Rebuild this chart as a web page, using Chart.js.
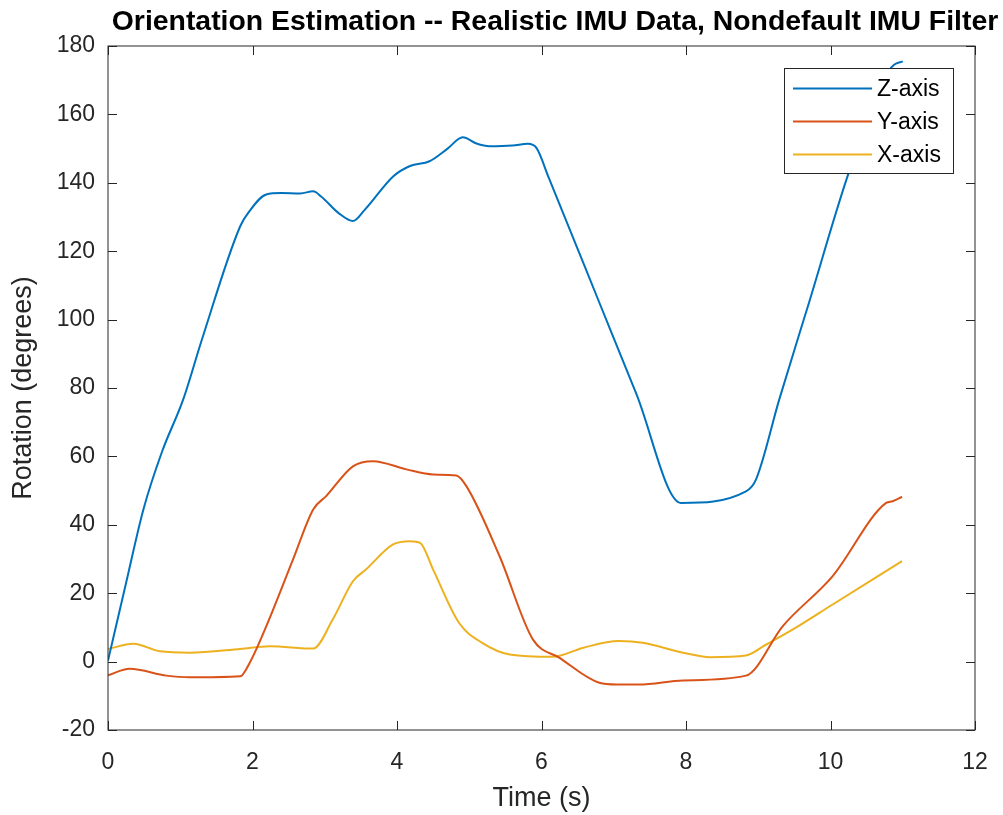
<!DOCTYPE html>
<html>
<head>
<meta charset="utf-8">
<script src="https://cdn.jsdelivr.net/npm/chart.js@4/dist/chart.umd.min.js"></script>
<style>
  body { margin: 0; background: #fff; }
  #wrap { width: 1003px; height: 815px; }
</style>
</head>
<body>
<div id="wrap"><canvas id="orient"></canvas></div>
<script>
// values
var zTime = [0, 0.25, 0.49, 0.75, 1.04, 1.3, 1.83, 1.95, 2.19, 2.4, 2.66, 2.84, 2.95, 3.2, 3.39, 3.55, 3.95, 4.18, 4.45, 4.7, 4.91, 5.1, 5.28, 5.6, 5.81, 5.93, 6.1, 6.8, 7.31, 7.93, 8.83, 8.97, 9.29, 9.7, 10.26, 10.8, 10.88, 11.0];
var zDeg  = [0.3, 23, 44.5, 61.5, 76.6, 94.2, 127.3, 131.5, 136.6, 137, 136.9, 137.5, 136, 131, 128.8, 132, 141.9, 144.9, 146.3, 150, 153.3, 151.5, 150.7, 150.9, 151.4, 150.2, 141.5, 105, 78.4, 46.4, 49.8, 53.3, 76.6, 104.8, 143.4, 172.5, 174.5, 175.5];

var yTime = [0, 0.3, 0.81, 1.13, 1.83, 1.96, 2.19, 2.56, 2.84, 3.02, 3.39, 3.67, 4.13, 4.5, 4.82, 4.96, 5.42, 5.88, 6.25, 6.8, 7.04, 7.35, 7.96, 8.83, 9.34, 10.03, 10.77, 10.86, 10.99];
var yDeg  = [-4, -2.1, -4.1, -4.6, -4.3, -0.4, 10.3, 29.8, 44.5, 48.4, 57.1, 58.6, 56.2, 54.7, 54.4, 51.3, 30.8, 6.5, 1.1, -6.2, -6.7, -6.7, -5.5, -4.1, 10.4, 25, 46.4, 46.9, 48.2];

var xTime = [0, 0.35, 0.72, 1.13, 1.83, 2.24, 2.84, 3.11, 3.39, 3.57, 3.94, 4.18, 4.32, 4.5, 4.86, 5.18, 5.56, 6.16, 6.57, 7.07, 7.4, 7.96, 8.33, 8.83, 9.11, 9.48, 10.03, 10.99];
var xDeg  = [3.7, 5.2, 3.0, 2.6, 3.7, 4.5, 3.8, 12.3, 23.5, 26.9, 34.2, 35.2, 34.7, 26.9, 11.3, 5.5, 2.1, 1.4, 4.0, 6.0, 5.5, 2.6, 1.3, 1.8, 5.0, 9.4, 16.7, 29.4];

var seriesNames = ['Z-axis', 'Y-axis', 'X-axis'];
var xTicks = [0, 2, 4, 6, 8, 10, 12];
var yTicks = [-20, 0, 20, 40, 60, 80, 100, 120, 140, 160, 180];

function pts(t, v) {
  return t.map(function (tt, i) { return { x: tt, y: v[i] }; });
}

var FONT = '"Liberation Sans", Arial, Helvetica, sans-serif';
var AXIS_COL = '#262626';

// box, inward ticks, legend and title, drawn the way MATLAB does
var matlabAxes = {
  id: 'matlabAxes',
  afterDraw: function (chart) {
    var c = chart.ctx, a = chart.chartArea;
    var sx = chart.scales.x, sy = chart.scales.y;
    c.save();
    c.strokeStyle = AXIS_COL;
    c.lineWidth = 1;
    c.strokeRect(a.left, a.top, a.right - a.left, a.bottom - a.top);
    c.beginPath();
    xTicks.forEach(function (v) {
      var px = Math.round(sx.getPixelForValue(v)) + 0.5;
      c.moveTo(px, a.bottom); c.lineTo(px, a.bottom - 9);
      c.moveTo(px, a.top); c.lineTo(px, a.top + 9);
    });
    yTicks.forEach(function (v) {
      var py = Math.round(sy.getPixelForValue(v)) + 0.5;
      c.moveTo(a.left, py); c.lineTo(a.left + 9, py);
      c.moveTo(a.right, py); c.lineTo(a.right - 9, py);
    });
    c.stroke();

    // title
    c.fillStyle = '#000';
    c.font = 'bold 28.4px ' + FONT;
    c.textAlign = 'center';
    c.textBaseline = 'middle';
    c.fillText('Orientation Estimation -- Realistic IMU Data, Nondefault IMU Filter', 555, 22);

    // legend
    var lx = 784.5, ly = 68.5, lw = 169, lh = 105;
    c.fillStyle = '#fff';
    c.fillRect(lx, ly, lw, lh);
    c.strokeStyle = AXIS_COL;
    c.strokeRect(lx, ly, lw, lh);
    c.font = '23px ' + FONT;
    c.textAlign = 'left';
    chart.data.datasets.forEach(function (ds, i) {
      var ry = 88.5 + i * 33;
      c.strokeStyle = ds.borderColor;
      c.lineWidth = 2;
      c.beginPath();
      c.moveTo(793, ry); c.lineTo(872, ry);
      c.stroke();
      c.fillStyle = '#000';
      c.fillText(ds.label, 877, ry + 1);
    });
    c.restore();
  }
};

var ctx = document.getElementById('orient').getContext('2d');
var chart = new Chart(ctx, {
  type: 'line',
  data: {
    datasets: [
      { label: seriesNames[0], data: pts(zTime, zDeg), borderColor: '#0072BD' },
      { label: seriesNames[1], data: pts(yTime, yDeg), borderColor: '#D95319' },
      { label: seriesNames[2], data: pts(xTime, xDeg), borderColor: '#EDB120' }
    ]
  },
  options: {
    responsive: true,
    maintainAspectRatio: false,
    animation: false,
    layout: { padding: { top: 46, right: 28, left: 0, bottom: 0 } },
    elements: {
      point: { radius: 0 },
      line: { borderWidth: 2, cubicInterpolationMode: 'monotone', fill: false }
    },
    plugins: {
      legend: { display: false },
      title: { display: false },
      tooltip: { enabled: false }
    },
    scales: {
      x: {
        type: 'linear',
        min: 0, max: 12,
        afterBuildTicks: function (s) { s.ticks = xTicks.map(function (v) { return { value: v }; }); },
        afterFit: function (s) { s.height = 85; s.paddingLeft = 0; s.paddingRight = 0; },
        grid: { display: false, drawTicks: false },
        border: { display: false },
        ticks: { color: AXIS_COL, font: { family: FONT, size: 23 }, padding: 19, maxRotation: 0 },
        title: { display: true, text: 'Time (s)', color: AXIS_COL, font: { family: FONT, size: 27 }, padding: { top: 0, bottom: 0 } }
      },
      y: {
        min: -20, max: 180,
        afterBuildTicks: function (s) { s.ticks = yTicks.map(function (v) { return { value: v }; }); },
        afterFit: function (s) { s.width = 108; s.paddingTop = 0; s.paddingBottom = 0; },
        grid: { display: false, drawTicks: false },
        border: { display: false },
        ticks: { color: AXIS_COL, font: { family: FONT, size: 23 }, padding: 13 },
        title: { display: true, text: 'Rotation (degrees)', color: AXIS_COL, font: { family: FONT, size: 27 }, padding: { top: 7, bottom: 7 } }
      }
    }
  },
  plugins: [matlabAxes]
});
</script>
</body>
</html>
